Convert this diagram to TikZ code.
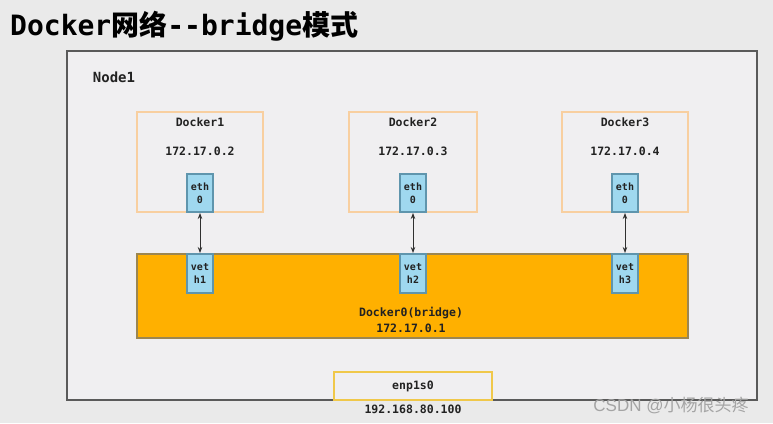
\documentclass[tikz,border=0pt]{standalone}
\usepackage{fontspec}
\newfontfamily\mono{DejaVu Sans Mono}
\newfontfamily\cjk{Noto Sans CJK SC}
\newfontfamily\wmfont{Liberation Sans}
\usetikzlibrary{arrows.meta}
\definecolor{bgout}{HTML}{EAEAEA}
\definecolor{innerbg}{HTML}{F0EFF1}
\definecolor{outerborder}{HTML}{5A5A5A}
\definecolor{dockerborder}{HTML}{F8CFA0}
\definecolor{ifacefill}{HTML}{9FD8EF}
\definecolor{ifaceborder}{HTML}{5F95AD}
\definecolor{bridgefill}{HTML}{FFB000}
\definecolor{bridgeborder}{HTML}{9C8650}
\definecolor{enpborder}{HTML}{F0C84A}
\definecolor{txt}{HTML}{222222}
\definecolor{linkc}{HTML}{303030}
\definecolor{wmgray}{HTML}{A4A4A4}
\begin{document}
\begin{tikzpicture}[x=1pt,y=-1pt,
  dockerbox/.style={draw=dockerborder, line width=1.2pt, minimum height=100pt, inner sep=0pt},
  iface/.style={draw=ifaceborder, fill=ifacefill, line width=2pt, minimum width=26pt, minimum height=38pt, inner sep=0pt, align=center, font=\mono\bfseries\fontsize{10}{13}\selectfont, text=txt},
  lbl/.style={font=\mono\bfseries\fontsize{11.5}{14}\selectfont, text=txt, inner sep=0pt},
  link/.style={{Stealth[length=6pt,width=4.5pt]}-{Stealth[length=6pt,width=4.5pt]}, line width=0.8pt, draw=linkc}]
\fill[bgout] (0,0) rectangle (773,423);
\useasboundingbox (0,0) rectangle (773,423);

% title
\node[anchor=base west, inner sep=0pt, text=black] (title) at (10,35)
  {\mono\bfseries\fontsize{28}{31}\selectfont Docker{\cjk 网络}-\kern0pt-bridge{\cjk 模式}};

% Node1 outer box
\node[draw=outerborder, fill=innerbg, line width=2pt, minimum width=690pt, minimum height=349pt, inner sep=0pt] (node1) at (412,225.5) {};
\node[font=\mono\bfseries\fontsize{14}{16}\selectfont, text=txt, inner sep=0pt] (node1lbl) at (114,77) {Node1};

% Docker containers
\node[dockerbox, minimum width=126pt] (d1) at (200,162) {};
\node[dockerbox, minimum width=128pt] (d2) at (413,162) {};
\node[dockerbox, minimum width=126pt] (d3) at (625,162) {};

\node[lbl] (d1name) at (200,122.5) {Docker1};
\node[lbl] (d2name) at (413,122.5) {Docker2};
\node[lbl] (d3name) at (625,122.5) {Docker3};
\node[lbl] (d1ip) at (200,151.5) {172.17.0.2};
\node[lbl] (d2ip) at (413,151.5) {172.17.0.3};
\node[lbl] (d3ip) at (625,151.5) {172.17.0.4};

\node[iface] (eth1) at (200,193) {eth\\0};
\node[iface] (eth2) at (413,193) {eth\\0};
\node[iface] (eth3) at (625,193) {eth\\0};

% bridge
\node[draw=bridgeborder, fill=bridgefill, line width=2pt, minimum width=551pt, minimum height=84pt, inner sep=0pt] (bridge) at (412.5,296) {};
\node[iface, minimum height=39pt] (veth1) at (200,273.5) {vet\\h1};
\node[iface, minimum height=39pt] (veth2) at (413,273.5) {vet\\h2};
\node[iface, minimum height=39pt] (veth3) at (625,273.5) {vet\\h3};
\node[lbl] (brname) at (411,313) {Docker0(bridge)};
\node[lbl] (brip) at (411,328) {172.17.0.1};

% links
\draw[link] (eth1.south) -- (veth1.north);
\draw[link] (eth2.south) -- (veth2.north);
\draw[link] (eth3.south) -- (veth3.north);

% host interface
\node[draw=enpborder, fill=innerbg, line width=1.2pt, minimum width=158pt, minimum height=28pt, inner sep=0pt, font=\mono\bfseries\fontsize{11.5}{14}\selectfont, text=txt] (enp) at (413,386) {enp1s0};
\node[lbl] (hostip) at (413,409) {192.168.80.100};

% watermark
\node[font=\wmfont\fontsize{17}{20}\selectfont, text=wmgray, inner sep=0pt] (wm) at (671,405) {CSDN @{\cjk 小杨很头疼}};
\end{tikzpicture}
\end{document}
